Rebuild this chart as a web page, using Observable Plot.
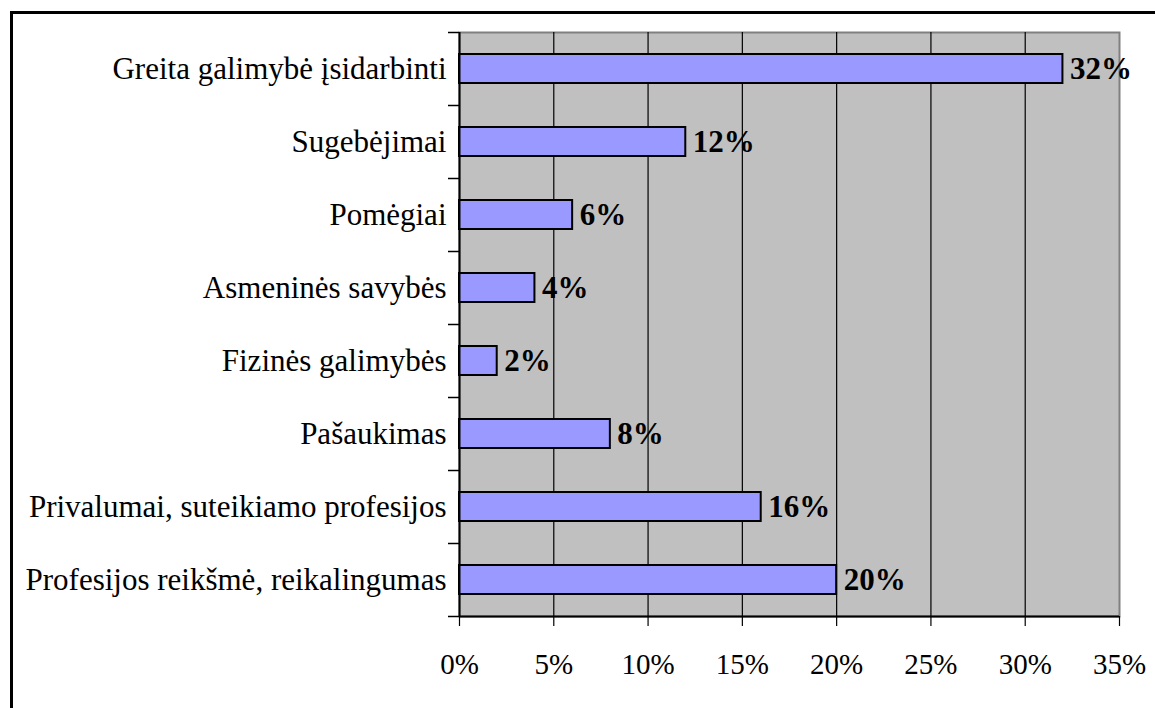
<!DOCTYPE html>
<html>
<head>
<meta charset="utf-8">
<script src="https://cdn.jsdelivr.net/npm/d3@7"></script>
<script src="https://cdn.jsdelivr.net/npm/@observablehq/plot@0.6"></script>
<style>
  html, body { margin: 0; padding: 0; background: #fff; overflow: hidden; }
  #wrap { position: relative; width: 1155px; height: 708px; }
  #border { position: absolute; left: 10px; top: 11px; width: 1300px; height: 900px;
            border-left: 3px solid #000; border-top: 3px solid #000; box-sizing: border-box; }
  #chart { position: absolute; left: 0; top: 0; }
</style>
</head>
<body>
<div id="wrap"><div id="border"></div><div id="chart"></div></div>
<script>
const categories = [
  "Greita galimybė įsidarbinti",
  "Sugebėjimai",
  "Pomėgiai",
  "Asmeninės savybės",
  "Fizinės galimybės",
  "Pašaukimas",
  "Privalumai, suteikiamo profesijos",
  "Profesijos reikšmė, reikalingumas"
];
const values = [0.32, 0.12, 0.06, 0.04, 0.02, 0.08, 0.16, 0.20];
const xTicks = [0, 0.05, 0.10, 0.15, 0.20, 0.25, 0.30, 0.35];

const data = categories.map((c, i) => ({category: c, value: values[i]}));
const pct = d3.format(".0%");
const half = 36.5;

const chart = Plot.plot({
  width: 1155,
  height: 708,
  marginLeft: 459,
  marginRight: 36,
  marginTop: 32,
  marginBottom: 92,
  style: {fontFamily: "'Liberation Serif', 'Times New Roman', serif", background: "transparent", color: "#000"},
  x: {domain: [0, 0.35], label: null},
  y: {domain: categories, padding: 0, label: null},
  marks: [
    Plot.frame({fill: "#C0C0C0", stroke: "#808080", strokeWidth: 2}),
    Plot.gridX(xTicks.slice(1, -1), {stroke: "#000", strokeOpacity: 1, strokeWidth: 1.2}),
    Plot.barX(data, {x: "value", y: "category", fill: "#9999FF", stroke: "#000", strokeWidth: 2, insetTop: 22, insetBottom: 22}),
    Plot.ruleX([0], {stroke: "#000", strokeWidth: 2}),
    Plot.ruleY([categories[categories.length - 1]], {y: d => d, x1: () => 0, x2: () => 0.35, dy: half, stroke: "#000", strokeWidth: 2}),
    Plot.ruleY(categories, {y: d => d, x1: () => 0, x2: () => 0, insetLeft: -11, dy: -half, stroke: "#000", strokeWidth: 1.5}),
    Plot.ruleY([categories[categories.length - 1]], {y: d => d, x1: () => 0, x2: () => 0, insetLeft: -11, dy: half, stroke: "#000", strokeWidth: 1.5}),
    Plot.axisX(xTicks, {tickSize: 10, tickPadding: 27, tickFormat: pct, fontSize: 29, stroke: "#000", strokeWidth: 1.2, label: null}),
    Plot.axisY({tickSize: 0, tickPadding: 13, fontSize: 31, label: null}),
    Plot.text(data, {x: "value", y: "category", text: d => pct(d.value), dx: 7, textAnchor: "start", fontWeight: "bold", fontSize: 31, fill: "#000"})
  ]
});
document.getElementById("chart").appendChild(chart);
</script>
</body>
</html>
